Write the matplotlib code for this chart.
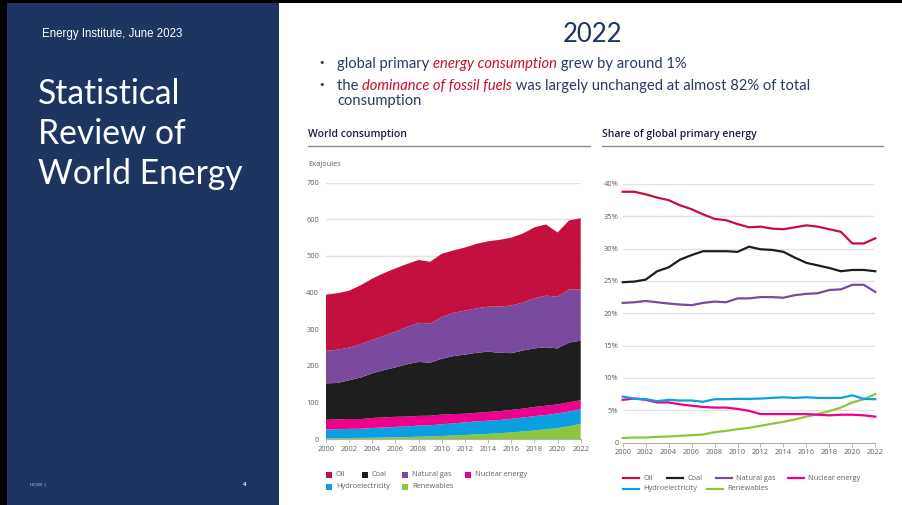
import matplotlib
matplotlib.use("Agg")
import matplotlib.pyplot as plt
from matplotlib.patches import Rectangle
import numpy as np

# ---------------- data ----------------
years = list(range(2000, 2023))
year_ticks = list(range(2000, 2023, 2))

# World consumption (Exajoules), stacked bottom -> top
renewables_ej = [2, 2.3, 2.7, 3, 3.5, 4, 4.6, 5.3, 6.2, 7, 8.3, 9.6, 11, 12.5, 14, 16, 18, 20.5, 23.5, 26.5, 29.5, 35, 41]
hydro_ej = [24.5, 24.5, 25, 25, 26.5, 27.5, 28.5, 29, 30.5, 30.5, 32, 33, 34.5, 35.5, 36, 36, 37, 38, 39, 39, 40.5, 40, 40.5]
nuclear_ej = [26, 26.5, 27, 26.5, 27.5, 27.5, 27.5, 27, 26.5, 26, 26.5, 25.5, 23.5, 23.5, 24, 24, 24.5, 24.5, 25, 25.5, 24.5, 25.5, 24.5]
coal_ej = [99.5, 99.7, 105.8, 113.5, 122, 129, 134.9, 142.7, 147.3, 145, 152.2, 158.4, 161.5, 164, 164.5, 159.5, 155, 158.5, 160, 159.5, 153, 163, 162.5]
gas_ej = [88.5, 91, 89, 91, 91, 94, 98, 102, 107, 107, 114, 118, 120, 121.5, 123, 126, 130, 131, 137, 141, 141, 145, 140]
oil_ej = [153.5, 154, 155.5, 161, 167.5, 171, 172.5, 172, 171.5, 168.5, 173, 170.5, 172.5, 176, 178.5, 182.5, 185.5, 188.5, 193.5, 194.5, 175.5, 188.5, 194.5]
ej_ticks = [0, 100, 200, 300, 400, 500, 600, 700]

# Share of global primary energy (%)
oil_sh = [38.8, 38.8, 38.4, 37.9, 37.5, 36.7, 36.1, 35.3, 34.6, 34.4, 33.8, 33.3, 33.4, 33.1, 33.0, 33.3, 33.6, 33.4, 33.0, 32.6, 30.8, 30.8, 31.6]
coal_sh = [24.8, 24.9, 25.2, 26.5, 27.1, 28.3, 29.0, 29.6, 29.6, 29.6, 29.5, 30.3, 29.9, 29.8, 29.5, 28.6, 27.8, 27.4, 27.0, 26.5, 26.7, 26.7, 26.5]
gas_sh = [21.6, 21.7, 21.9, 21.7, 21.5, 21.35, 21.25, 21.6, 21.8, 21.7, 22.3, 22.3, 22.5, 22.5, 22.4, 22.8, 23.0, 23.1, 23.6, 23.7, 24.4, 24.4, 23.3]
nuclear_sh = [6.6, 6.8, 6.6, 6.2, 6.2, 5.9, 5.7, 5.5, 5.4, 5.4, 5.2, 4.9, 4.4, 4.4, 4.4, 4.4, 4.4, 4.3, 4.2, 4.3, 4.3, 4.2, 4.0]
hydro_sh = [7.1, 6.8, 6.7, 6.4, 6.6, 6.5, 6.5, 6.3, 6.7, 6.7, 6.75, 6.75, 6.8, 6.9, 7.0, 6.9, 7.0, 6.9, 6.9, 6.9, 7.3, 6.75, 6.7]
renew_sh = [0.7, 0.77, 0.77, 0.88, 0.93, 1.03, 1.13, 1.24, 1.6, 1.8, 2.06, 2.27, 2.58, 2.9, 3.2, 3.56, 4.0, 4.4, 4.85, 5.4, 6.2, 6.7, 7.5]
pct_ticks = [0, 5, 10, 15, 20, 25, 30, 35, 40]
pct_labels = ["0", "5%", "10%", "15%", "20%", "25%", "30%", "35%", "40%"]

labels = ["Oil", "Coal", "Natural gas", "Nuclear energy", "Hydroelectricity", "Renewables"]

# ---------------- style ----------------
C_OIL = "#c3103f"
C_COAL = "#1e1e1e"
C_GAS = "#7a4a9e"
C_NUC = "#ec008c"
C_HYD = "#0aa0e0"
C_REN = "#8cc63f"
NAVY = "#1d3560"
TXT = "#2b3a60"
RED = "#c8102e"
GRAY = "#606060"
CHART_FONT = "Open Sans"
SLIDE_FONT = "Lato"

W, H = 902, 505
fig = plt.figure(figsize=(W / 100, H / 100), dpi=100)
fig.patch.set_facecolor("white")

def fx(px):
    return px / W

def fy(py):
    return 1 - py / H

bg = fig.add_axes([0, 0, 1, 1])
bg.set_xlim(0, W)
bg.set_ylim(H, 0)
bg.axis("off")

# frame + left panel
bg.add_patch(Rectangle((0, 0), W, 3, color="black", lw=0))
bg.add_patch(Rectangle((0, 0), 6.5, H, color="black", lw=0))
bg.add_patch(Rectangle((6.5, 3), 272.5, H - 3, color=NAVY, lw=0))

bg.text(42, 34, "Energy Institute, June 2023", color="white", fontsize=8.3,
        family="Liberation Sans", va="center", ha="left")
for i, line in enumerate(["Statistical", "Review of", "World Energy"]):
    bg.text(38, 94 + 40 * i, line, color="white", fontsize=24.2, family=SLIDE_FONT,
            va="center", ha="left")
bg.text(30, 485, "HCSS  |", color="#c8cfdc", fontsize=3.2, family="Liberation Sans",
        va="center", ha="left")
bg.text(243, 485, "4", color="white", fontsize=4.5, family="Liberation Sans",
        va="center", ha="left", weight="bold")

# heading and bullets
bg.text(592, 35, "2022", color=NAVY, fontsize=18.5, family=SLIDE_FONT, va="center", ha="center")

def chain(segments, x0, y0):
    prev = None
    for txt, col, style in segments:
        if prev is None:
            prev = bg.text(x0, y0, txt, color=col, style=style, fontsize=10.6,
                           family=SLIDE_FONT, va="bottom", ha="left")
        else:
            prev = bg.annotate(txt, xy=(1, 0), xycoords=prev, color=col, style=style,
                               fontsize=10.6, family=SLIDE_FONT, va="bottom", ha="left")

bg.text(318, 63, "•", color=TXT, fontsize=8, family="DejaVu Sans", va="center", ha="left")
bg.text(318, 85, "•", color=TXT, fontsize=8, family="DejaVu Sans", va="center", ha="left")
chain([("global primary ", TXT, "normal"), ("energy consumption", RED, "italic"),
       (" grew by around 1%", TXT, "normal")], 337, 71)
chain([("the ", TXT, "normal"), ("dominance of fossil fuels", RED, "italic"),
       (" was largely unchanged at almost 82% of total", TXT, "normal")], 337, 93)
bg.text(337, 101.5, "consumption", color=TXT, fontsize=10.6, family=SLIDE_FONT,
        va="center", ha="left")

# chart titles
bg.text(308, 135, "World consumption", color="#1c1c4c", fontsize=7.5, family=CHART_FONT,
        weight="semibold", va="center", ha="left")
bg.plot([308, 590], [145.5, 145.5], color="#8a8a8a", lw=1)
bg.text(602, 135, "Share of global primary energy", color="#1c1c4c", fontsize=7.5,
        family=CHART_FONT, weight="semibold", va="center", ha="left")
bg.plot([602, 883], [145.5, 145.5], color="#8a8a8a", lw=1)
bg.text(308, 165, "Exajoules", color=GRAY, fontsize=5.4, family=CHART_FONT,
        va="center", ha="left")

# ---------------- left chart: stacked area ----------------
axL = fig.add_axes([fx(326), fy(439), fx(580.7 - 326), fy(182.7) - fy(439)])
axL.stackplot(years, renewables_ej, hydro_ej, nuclear_ej, coal_ej, gas_ej, oil_ej,
              colors=[C_REN, C_HYD, C_NUC, C_COAL, C_GAS, C_OIL], lw=0, zorder=3)
axL.set_xlim(2000, 2022)
axL.set_ylim(0, 700)
axL.set_yticks(ej_ticks)
axL.set_xticks(year_ticks)
axL.grid(axis="y", color="#e3e3e3", lw=1, zorder=0)
axL.set_axisbelow(True)
for s in ["top", "right", "left"]:
    axL.spines[s].set_visible(False)
axL.spines["bottom"].set_color("#b0b0b0")
axL.spines["bottom"].set_linewidth(0.8)
axL.tick_params(axis="y", length=0, pad=5, labelsize=5.4, labelcolor=GRAY)
axL.tick_params(axis="x", length=3, width=0.6, color="#b0b0b0", pad=2,
                labelsize=5.4, labelcolor=GRAY)
for t in axL.get_xticklabels() + axL.get_yticklabels():
    t.set_family(CHART_FONT)

# legend left (squares)
leg_left = [(326, 475, C_OIL, labels[0]), (362, 475, C_COAL, labels[1]),
            (402, 475, C_GAS, labels[2]), (465, 475, C_NUC, labels[3]),
            (326, 486.5, C_HYD, labels[4]), (402, 486.5, C_REN, labels[5])]
for x, y, c, lab in leg_left:
    bg.add_patch(Rectangle((x, y - 3), 6, 6, color=c, lw=0))
    bg.text(x + 10, y, lab, color=GRAY, fontsize=5.3, family=CHART_FONT, va="center", ha="left")

# ---------------- right chart: lines ----------------
axR = fig.add_axes([fx(622.7), fy(442.5), fx(875.3 - 622.7), fy(184) - fy(442.5)])
for vals, c in [(gas_sh, C_GAS), (coal_sh, C_COAL), (oil_sh, C_OIL),
                (renew_sh, C_REN), (nuclear_sh, C_NUC), (hydro_sh, C_HYD)]:
    axR.plot(years, vals, color=c, lw=1.6, solid_joinstyle="round", clip_on=False, zorder=3)
axR.set_xlim(2000, 2022)
axR.set_ylim(0, 40)
axR.set_yticks(pct_ticks)
axR.set_yticklabels(pct_labels)
axR.set_xticks(year_ticks)
axR.grid(axis="y", color="#e3e3e3", lw=1, zorder=0)
axR.set_axisbelow(True)
for s in ["top", "right", "left"]:
    axR.spines[s].set_visible(False)
axR.spines["bottom"].set_color("#b0b0b0")
axR.spines["bottom"].set_linewidth(0.8)
axR.tick_params(axis="y", length=0, pad=3, labelsize=5.4, labelcolor=GRAY)
axR.tick_params(axis="x", length=3, width=0.6, color="#b0b0b0", pad=2,
                labelsize=5.4, labelcolor=GRAY)
for t in axR.get_xticklabels() + axR.get_yticklabels():
    t.set_family(CHART_FONT)

leg_right = [(623, 478, C_OIL, labels[0]), (667, 478, C_COAL, labels[1]),
             (716, 478, C_GAS, labels[2]), (788, 478, C_NUC, labels[3]),
             (623, 489, C_HYD, labels[4]), (707, 489, C_REN, labels[5])]
for x, y, c, lab in leg_right:
    bg.plot([x, x + 16], [y, y], color=c, lw=1.6)
    bg.text(x + 20, y, lab, color=GRAY, fontsize=5.3, family=CHART_FONT, va="center", ha="left")

fig.savefig("out.png", dpi=100, facecolor="white")
